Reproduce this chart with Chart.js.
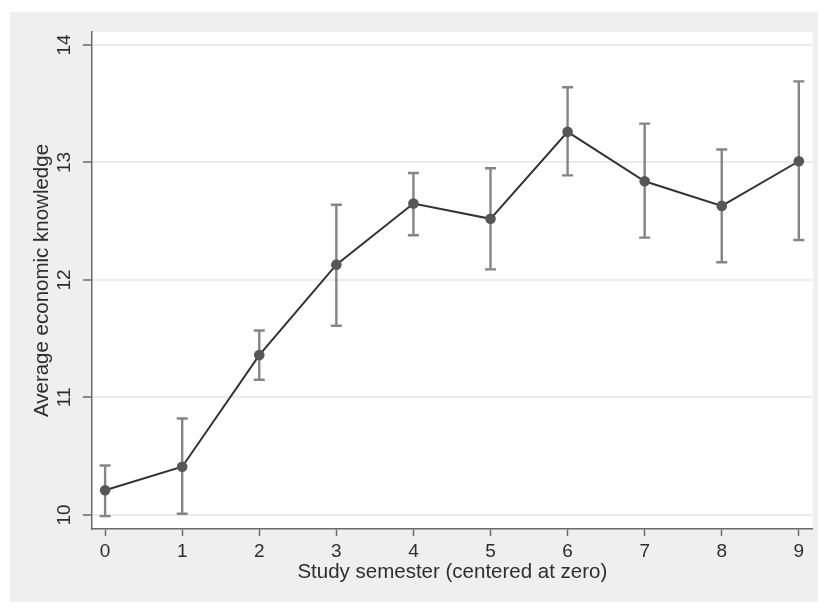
<!DOCTYPE html>
<html>
<head>
<meta charset="utf-8">
<script src="https://cdn.jsdelivr.net/npm/chart.js@4.4.0/dist/chart.umd.min.js"></script>
<style>
  html, body { margin: 0; padding: 0; background: #ffffff; }
  #wrap { position: absolute; left: 10px; top: 12px; width: 808px; height: 590px; background: #efefef; }
  canvas { display: block; }
</style>
</head>
<body>
<div id="wrap"><canvas id="c" width="808" height="590"></canvas></div>
<script>
// Data
const semesters = [0, 1, 2, 3, 4, 5, 6, 7, 8, 9];
const meanKnowledge = [10.21, 10.41, 11.36, 12.13, 12.65, 12.52, 13.26, 12.84, 12.63, 13.01];
const ciUpper = [10.42, 10.82, 11.57, 12.64, 12.91, 12.95, 13.64, 13.33, 13.11, 13.69];
const ciLower = [9.99, 10.01, 11.15, 11.61, 12.38, 12.09, 12.89, 12.36, 12.15, 12.34];
const xTickValues = [0, 1, 2, 3, 4, 5, 6, 7, 8, 9];
const yTickValues = [10, 11, 12, 13, 14];
const xTitle = 'Study semester (centered at zero)';
const yTitle = 'Average economic knowledge';

const FONT = '"Liberation Sans", Arial, Helvetica, sans-serif';
const TEXT = '#2e2e2e';

const plotBg = {
  id: 'plotBg',
  beforeDraw(chart) {
    const {ctx, chartArea: a} = chart;
    ctx.save();
    ctx.fillStyle = '#ffffff';
    ctx.fillRect(a.left, a.top, a.right - a.left, a.bottom - a.top);
    ctx.restore();
  }
};

const errorBars = {
  id: 'errorBars',
  beforeDatasetsDraw(chart) {
    const {ctx, scales: {x, y}} = chart;
    ctx.save();
    ctx.strokeStyle = '#858585';
    ctx.lineWidth = 2.4;
    semesters.forEach((s, i) => {
      const px = x.getPixelForValue(s);
      const pt = y.getPixelForValue(ciUpper[i]);
      const pb = y.getPixelForValue(ciLower[i]);
      ctx.beginPath();
      ctx.moveTo(px, pt); ctx.lineTo(px, pb);
      ctx.moveTo(px - 5.5, pt); ctx.lineTo(px + 5.5, pt);
      ctx.moveTo(px - 5.5, pb); ctx.lineTo(px + 5.5, pb);
      ctx.stroke();
    });
    ctx.restore();
  }
};

const yLabels = {
  id: 'yLabels',
  afterDraw(chart) {
    const {ctx, scales: {y}} = chart;
    ctx.save();
    ctx.fillStyle = TEXT;
    ctx.font = '19px ' + FONT;
    ctx.textAlign = 'center';
    ctx.textBaseline = 'middle';
    yTickValues.forEach(v => {
      const py = y.getPixelForValue(v);
      ctx.save();
      ctx.translate(y.left + 55, py);
      ctx.rotate(-Math.PI / 2);
      ctx.fillText(String(v), 0, 0);
      ctx.restore();
    });
    ctx.restore();
  }
};

new Chart(document.getElementById('c'), {
  type: 'line',
  data: {
    datasets: [{
      data: semesters.map((s, i) => ({x: s, y: meanKnowledge[i]})),
      borderColor: '#333333',
      borderWidth: 2,
      pointRadius: 5.3,
      pointBackgroundColor: '#575757',
      pointBorderColor: '#575757',
      pointBorderWidth: 0,
      tension: 0,
      fill: false
    }]
  },
  options: {
    responsive: false,
    animation: false,
    devicePixelRatio: 1,
    layout: { padding: { top: 20, right: 5, left: 0, bottom: 0 } },
    plugins: { legend: { display: false }, tooltip: { enabled: false } },
    scales: {
      x: {
        type: 'linear',
        min: -0.17,
        max: 9.18,
        afterBuildTicks: s => { s.ticks = xTickValues.map(v => ({value: v})); },
        afterFit: s => { s.height = 73; },
        border: { color: '#6a6a6a', width: 1.5 },
        grid: { drawOnChartArea: false, drawTicks: true, tickLength: 7, tickColor: '#6a6a6a', tickWidth: 1.5 },
        ticks: { color: TEXT, font: { family: FONT, size: 19 }, padding: 4, maxRotation: 0 },
        title: { display: true, text: xTitle, color: TEXT, font: { family: FONT, size: 20.5 }, padding: { top: 0, bottom: 17 } }
      },
      y: {
        type: 'linear',
        min: 9.88,
        max: 14.11,
        afterBuildTicks: s => { s.ticks = yTickValues.map(v => ({value: v})); },
        afterFit: s => { s.width = 82; },
        border: { color: '#6a6a6a', width: 1.5 },
        grid: { color: '#ebebeb', lineWidth: 2, drawTicks: true, tickLength: 9, tickColor: '#6a6a6a', tickWidth: 1.5 },
        ticks: { display: false },
        title: { display: true, text: yTitle, color: TEXT, font: { family: FONT, size: 20.5 }, padding: { top: 20, bottom: 0 } }
      }
    }
  },
  plugins: [plotBg, errorBars, yLabels]
});
</script>
</body>
</html>
